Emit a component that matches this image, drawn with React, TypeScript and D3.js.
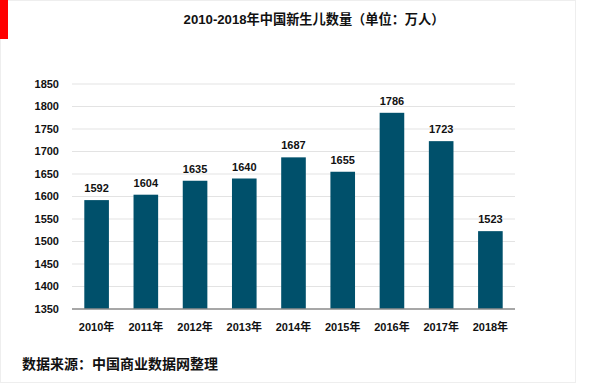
import * as d3 from "d3";

const years = ["2010年", "2011年", "2012年", "2013年", "2014年", "2015年", "2016年", "2017年", "2018年"];
const births = [1592, 1604, 1635, 1640, 1687, 1655, 1786, 1723, 1523];
const yTicks = [1350, 1400, 1450, 1500, 1550, 1600, 1650, 1700, 1750, 1800, 1850];

const W = 600;
const H = 385;
const margin = { left: 72, right: 85, top: 84, bottom: 76 };
const font = "Arial, 'Liberation Sans', 'Noto Sans CJK SC', sans-serif";

const App = () => {
  const x = d3.scaleBand()
    .domain(years)
    .range([margin.left, W - margin.right])
    .paddingInner(0.5)
    .paddingOuter(0.25);

  const y = d3.scaleLinear()
    .domain([1350, 1850])
    .range([H - margin.bottom, margin.top]);

  return (
    <svg width={W} height={H} style={{ position: "absolute", left: 0, top: 0, background: "#fff" }}>
      <rect x={0.5} y={0.5} width={575} height={382} fill="#fff" stroke="#eeeeee" />
      <rect x={0} y={0} width={8} height={39} fill="#ff0000" />
      <text x={314} y={24} textAnchor="middle" fontFamily={font} fontWeight="bold" fontSize={13.2} fill="#111">
        2010-2018年中国新生儿数量（单位：万人）
      </text>

      {/* grid */}
      {yTicks.slice(1).map(t => (
        <line key={t} x1={margin.left} x2={W - margin.right} y1={y(t)} y2={y(t)} stroke="#e3e3e3" strokeWidth={1} />
      ))}
      {yTicks.map(t => (
        <text key={"l" + t} x={59} y={y(t)} dy="0.35em" textAnchor="end" fontFamily={font} fontWeight="bold" fontSize={11} fill="#111">
          {t}
        </text>
      ))}

      {/* bars */}
      {births.map((v, i) => (
        <g key={years[i]}>
          <rect x={x(years[i])} y={y(v)} width={x.bandwidth()} height={y(1350) - y(v)} fill="#00506b" />
          <text x={(x(years[i]) ?? 0) + x.bandwidth() / 2} y={y(v) - 8} textAnchor="middle" fontFamily={font} fontWeight="bold" fontSize={11} fill="#111">
            {v}
          </text>
          <text x={(x(years[i]) ?? 0) + x.bandwidth() / 2} y={y(1350) + 22} textAnchor="middle" fontFamily={font} fontWeight="bold" fontSize={11} fill="#111">
            {years[i]}
          </text>
        </g>
      ))}

      <line x1={margin.left} x2={W - margin.right} y1={y(1350)} y2={y(1350)} stroke="#8a8a8a" strokeWidth={1.5} />

      <text x={22} y={369} fontFamily={font} fontWeight="bold" fontSize={14} fill="#111">
        数据来源：中国商业数据网整理
      </text>
    </svg>
  );
};

export default App;
